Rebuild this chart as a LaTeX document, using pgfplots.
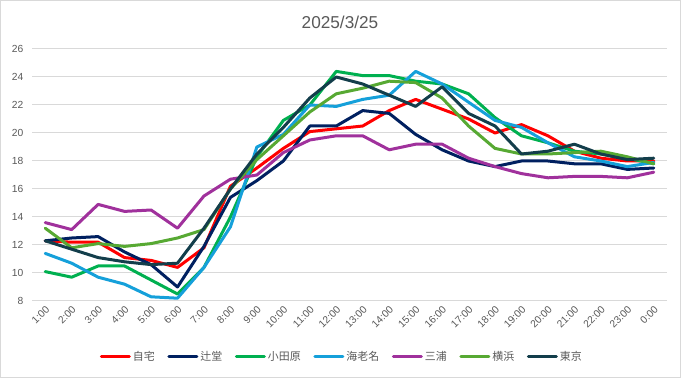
\documentclass[border=0pt]{standalone}
\usepackage{pgfplots}
\usepackage{pgfplotstable}
\pgfplotsset{compat=1.18}
\usepackage{fontspec}
\setmainfont{Liberation Sans}
\newfontfamily\jp{Noto Sans CJK JP}
\definecolor{gridgray}{HTML}{D9D9D9}
\definecolor{txtgray}{HTML}{595959}
\definecolor{cRed}{HTML}{FF0000}
\definecolor{cNavy}{HTML}{002060}
\definecolor{cGreen}{HTML}{00B050}
\definecolor{cBlue}{HTML}{15A0DA}
\definecolor{cPurple}{HTML}{A0319C}
\definecolor{cOlive}{HTML}{57A933}
\definecolor{cTeal}{HTML}{133E4B}

\pgfplotstableread{
i  red  navy green blue purple olive teal
0  12.3 12.3 10.1 11.4 13.6 13.2 12.3
1  12.2 12.5 9.7  10.7 13.1 11.8 11.7
2  12.2 12.6 10.5 9.7  14.9 12.1 11.1
3  11.1 11.5 10.5 9.2  14.4 11.9 10.8
4  10.9 10.6 9.5  8.3  14.5 12.1 10.6
5  10.4 9.0  8.5  8.2  13.2 12.5 10.7
6  11.8 11.9 10.4 10.4 15.5 13.1 13.2
7  16.2 15.4 14.0 13.3 16.7 16.0 16.0
8  17.5 16.6 18.3 19.0 17.0 18.1 18.5
9  18.9 18.0 20.9 19.9 18.6 19.8 20.4
10 20.1 20.5 22.0 22.0 19.5 21.5 22.5
11 20.3 20.5 24.4 21.9 19.8 22.8 24.0
12 20.5 21.6 24.1 22.4 19.8 23.2 23.5
13 21.6 21.4 24.1 22.7 18.8 23.7 22.7
14 22.4 19.9 23.7 24.4 19.2 23.6 21.9
15 21.7 18.8 23.5 23.5 19.2 22.5 23.3
16 21.0 18.0 22.8 22.2 18.2 20.5 21.4
17 20.0 17.6 21.1 20.9 17.6 18.9 20.5
18 20.6 18.0 19.8 20.4 17.1 18.5 18.5
19 19.8 18.0 19.3 19.3 16.8 18.5 18.7
20 18.7 17.8 18.7 18.3 16.9 18.6 19.2
21 18.2 17.8 18.5 18.0 16.9 18.7 18.5
22 18.0 17.4 18.2 17.6 16.8 18.3 18.1
23 18.0 17.5 17.8 17.9 17.2 17.8 18.2
}\datatable

\begin{document}
\begin{tikzpicture}
\path[use as bounding box] (0,0) rectangle (510.75pt,283.5pt);
\draw[gridgray, line width=0.75pt] (0.4pt,0.4pt) rectangle (510.35pt,283.1pt);
\node[text=txtgray, font=\fontsize{12.9}{15}\selectfont] at (255pt,266.8pt) {2025/3/25};
\begin{axis}[
  at={(24pt,57.75pt)}, anchor=south west,
  scale only axis, width=476.25pt, height=189pt,
  xmin=-0.5, xmax=23.5, ymin=8, ymax=26,
  ytick={8,10,...,26},
  xtick={0,...,23},
  xticklabels={1:00,2:00,3:00,4:00,5:00,6:00,7:00,8:00,9:00,10:00,11:00,12:00,13:00,14:00,15:00,16:00,17:00,18:00,19:00,20:00,21:00,22:00,23:00,0:00},
  axis line style={draw=none},
  ymajorgrids, grid style={gridgray, line width=0.75pt},
  major tick length=0pt,
  /pgf/number format/assume math mode=true,
  tick label style={text=txtgray, font=\fontsize{7.7}{9}\selectfont},
  yticklabel style={xshift=-3pt},
  xticklabel style={rotate=45, anchor=east, yshift=-5pt, xshift=1pt},
  every axis plot/.append style={line width=2.25pt, line join=round, line cap=round, no marks},
  legend columns=7,
  legend style={draw=none, fill=none, at={(0.488,-0.222)}, anchor=center,
    font=\jp\fontsize{8.2}{10}\selectfont, text=txtgray,
    nodes={inner xsep=1.5pt},
    /tikz/every even column/.append style={column sep=8pt}},
  legend image code/.code={\draw[#1, line width=2.25pt] (0pt,0pt) -- (21pt,0pt);},
  legend cell align=left,
]
\addplot[cRed] table[x=i, y=red] {\datatable};
\addlegendentry{自宅}
\addplot[cNavy] table[x=i, y=navy] {\datatable};
\addlegendentry{辻堂}
\addplot[cGreen] table[x=i, y=green] {\datatable};
\addlegendentry{小田原}
\addplot[cBlue] table[x=i, y=blue] {\datatable};
\addlegendentry{海老名}
\addplot[cPurple] table[x=i, y=purple] {\datatable};
\addlegendentry{三浦}
\addplot[cOlive] table[x=i, y=olive] {\datatable};
\addlegendentry{横浜}
\addplot[cTeal] table[x=i, y=teal] {\datatable};
\addlegendentry{東京}
\end{axis}
\end{tikzpicture}
\end{document}
